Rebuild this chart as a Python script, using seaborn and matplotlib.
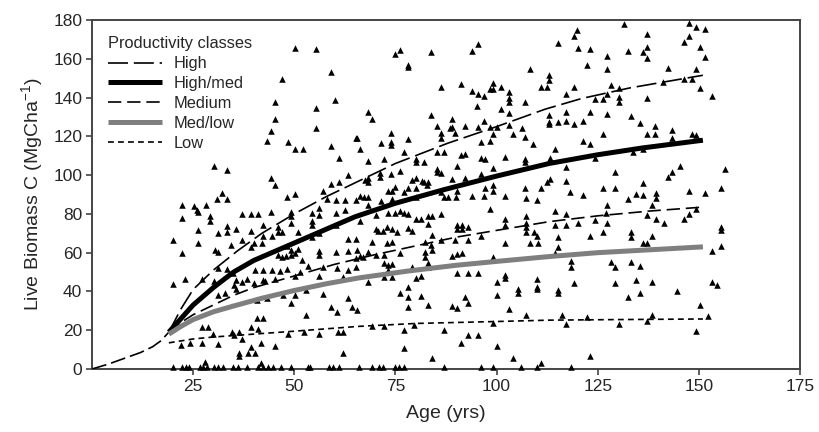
import matplotlib
matplotlib.use("Agg")
import matplotlib.pyplot as plt
import seaborn as sns
import pandas as pd

# ---------------- data ----------------
age_pts = [
    # upper left
    50.2,55.3,59.2,47.0,45.2,55.3,60.1,45.2,55.3,44.2,43.2,48.4,50.2,52.2,59.2,65.2,61.0,30.2,33.3,44.2,45.2,63.2,59.2,61.0,32.2,50.2,57.2,
    # upper middle
    76.1,75.0,83.9,95.3,94.0,78.2,78.2,108.2,112.9,86.3,91.2,94.0,95.3,97.0,99.2,98.4,99.2,101.2,103.1,103.1,103.1,95.1,107.0,101.2,103.1,
    111.1,112.4,112.9,112.9,68.3,69.1,83.9,85.2,89.1,89.1,88.5,92.2,95.3,97.0,98.4,100.0,103.1,104.1,106.2,107.0,109.1,86.3,86.3,89.7,
    73.9,73.9,73.9,78.2,71.4,66.2,65.4,85.2,87.1,91.2,92.2,96.1,96.1,97.1,98.4,99.2,102.2,107.0,107.0,68.3,72.2,77.2,80.0,80.0,82.1,
    85.2,85.2,86.3,89.1,90.1,92.2,96.1,99.2,68.3,71.2,71.2,73.9,76.1,79.0,80.2,81.5,82.1,82.7,83.1,80.0,78.2,77.2,75.0,74.1,73.1,
    86.3,90.1,97.1,99.2,99.2,107.0,111.1,112.4,67.5,68.3,
    # upper right
    120.0,119.2,115.3,120.2,123.1,122.3,127.2,127.2,131.4,137.1,137.1,136.3,132.4,137.1,146.4,147.5,147.5,149.4,151.5,150.3,151.5,
    142.4,149.4,112.9,119.2,117.1,128.3,130.2,124.3,126.4,127.2,130.2,130.2,137.2,141.2,146.4,148.2,150.3,153.3,117.1,112.9,115.3,
    117.1,119.2,121.4,123.1,127.2,133.2,135.4,139.1,139.1,137.1,143.3,143.3,148.2,149.4,126.4,121.4,123.1,114.4,113.2,124.3,133.8,
    136.3,117.1,129.3,145.3,143.3,142.4,156.4,113.2,117.1,118.2,126.4,129.3,136.3,147.5,151.5,155.4,
    # lower left
    31.0,33.3,22.3,25.3,25.9,26.3,28.1,22.3,29.2,29.2,37.2,39.3,41.1,44.2,48.3,49.2,49.2,54.3,56.1,58.2,60.2,62.5,65.2,62.5,60.2,56.1,
    26.3,31.2,33.3,33.3,35.5,39.3,42.3,46.0,46.0,47.0,49.2,51.0,54.3,54.3,54.3,56.1,60.2,63.2,65.2,20.1,26.3,30.4,31.2,22.3,34.3,37.2,
    39.3,40.1,42.3,42.1,44.6,48.3,49.2,51.0,46.0,47.0,47.9,49.2,50.2,51.8,56.1,56.1,60.2,63.2,65.4,65.2,65.2,31.2,33.3,34.9,35.5,37.0,
    38.2,40.3,42.3,44.4,45.2,42.8,46.5,48.3,50.2,51.4,53.5,56.1,57.2,60.5,62.1,63.2,20.1,23.1,27.1,30.2,31.2,33.0,35.2,35.7,40.1,42.3,
    40.9,43.2,47.3,49.2,50.2,53.0,57.2,63.2,53.0,59.2,60.5,64.2,65.4,27.1,28.6,30.0,34.5,35.2,36.3,39.3,40.9,42.3,41.1,48.5,52.5,56.1,
    60.9,62.1,22.0,24.2,27.1,31.1,37.2,39.3,41.9,45.2,36.3,36.3,38.5,40.3,27.9,41.9,62.1,
    # lower middle
    66.2,67.3,68.3,68.3,71.4,74.1,80.0,87.1,88.1,89.9,94.0,97.0,102.2,107.2,110.1,66.2,70.1,73.2,75.0,76.1,77.2,78.2,80.0,81.3,83.1,
    84.1,86.3,83.1,70.1,70.6,72.0,72.8,74.1,75.3,78.2,79.2,84.1,90.1,91.4,90.1,91.4,93.0,96.1,98.4,102.2,102.2,107.2,107.2,107.2,107.2,
    109.3,110.1,110.3,108.2,102.2,93.0,89.7,82.3,83.9,86.3,74.1,72.8,69.3,68.3,67.1,66.2,70.1,72.2,76.1,82.3,82.3,84.1,89.1,90.1,91.4,
    99.2,72.2,73.2,74.1,73.2,72.2,74.1,79.2,80.2,81.3,83.1,83.1,90.1,93.0,95.3,68.3,76.1,78.2,78.2,78.2,81.3,83.1,89.1,90.1,92.2,93.0,
    100.0,102.2,102.2,100.0,105.2,105.2,109.9,110.1,110.1,103.1,107.2,69.3,72.2,77.2,79.7,87.1,91.2,93.0,95.3,99.2,100.0,77.2,84.1,
    104.1,111.1,
    # lower right
    121.4,132.4,134.4,136.3,139.3,139.3,138.5,127.2,114.4,117.1,114.4,117.1,120.2,124.3,127.2,127.0,137.1,139.3,141.5,146.4,147.5,
    149.2,115.3,123.1,126.4,133.2,133.2,136.3,137.1,138.5,115.3,114.4,155.5,155.5,155.5,153.3,118.4,118.4,128.3,129.3,133.2,135.4,
    115.3,115.3,119.2,129.3,134.4,138.5,135.4,132.4,144.5,153.3,154.6,150.3,152.3,116.2,117.1,122.3,130.3,137.3,138.3,149.4,123.1,
    # sitting on the axis
    20.0,22.2,23.2,24.0,26.7,27.5,28.5,30.1,31.2,32.5,34.9,36.2,38.2,41.1,42.3,43.6,44.8,46.6,49.3,53.5,54.0,58.6,59.5,61.1,66.1,
    69.1,71.0,72.0,74.9,76.0,77.0,87.1,96.1,99.2,106.0,110.1,118.3,
]
biomass_pts = [
    165.7,165.0,153.0,149.6,137.9,134.4,138.7,128.9,124.1,122.9,117.6,116.9,113.3,113.3,115.1,118.9,109.0,104.8,102.4,98.7,94.9,100.0,95.2,96.6,90.9,90.3,92.0,
    164.5,162.5,163.3,167.6,164.0,156.8,155.6,154.6,151.7,145.6,146.8,143.4,141.7,140.7,147.4,144.4,144.4,145.6,142.7,140.0,137.6,135.8,137.9,134.1,131.9,
    145.6,145.6,131.0,127.6,132.4,129.0,131.0,125.5,129.0,125.0,124.2,125.5,125.0,127.9,125.0,125.0,125.9,121.1,124.2,119.9,115.9,121.6,119.3,121.6,
    121.6,117.3,115.6,118.6,116.4,113.5,119.0,112.1,112.1,110.4,110.7,117.3,108.7,108.3,117.6,121.4,109.5,108.3,106.6,107.3,108.2,111.8,108.2,106.6,107.0,
    103.2,101.5,100.9,98.0,104.9,98.7,100.4,103.9,98.4,100.9,98.9,100.4,102.1,97.5,98.4,97.0,96.3,94.9,96.6,93.6,93.2,91.5,94.1,91.8,91.8,
    91.1,91.8,93.2,94.9,91.8,93.2,93.2,96.6,97.5,96.6,
    174.9,171.9,168.3,165.8,165.1,156.8,161.5,154.6,177.8,172.8,166.3,163.3,164.0,160.3,168.8,171.9,178.3,176.6,175.2,166.3,161.1,
    155.1,154.6,149.1,145.6,141.7,146.5,145.1,139.3,139.3,141.7,140.5,137.6,140.0,148.2,149.6,149.4,145.1,140.8,132.7,126.5,127.6,
    127.9,126.2,127.9,132.7,131.4,130.7,126.7,125.5,121.1,121.1,123.3,119.0,121.1,120.7,121.1,117.8,116.1,113.5,109.0,109.0,112.1,
    113.5,104.4,101.5,104.7,101.8,99.2,103.2,98.0,97.0,91.5,93.2,93.2,95.8,92.0,90.6,93.2,
    87.5,87.5,84.6,84.0,82.0,81.1,84.6,77.7,78.9,76.5,79.9,79.9,79.9,81.1,88.9,81.1,78.9,80.6,82.8,87.5,87.1,87.1,87.1,82.0,80.6,79.4,
    71.7,70.0,73.7,70.8,72.0,71.3,74.3,73.4,70.8,70.8,75.1,70.8,76.5,74.2,68.2,70.0,74.2,66.9,66.9,66.5,65.1,61.4,60.5,59.6,63.9,66.5,
    62.7,64.8,68.6,64.8,68.6,63.4,61.4,61.7,58.8,57.9,58.3,58.8,60.0,56.2,61.0,58.8,60.5,61.0,61.4,57.1,52.8,51.9,51.4,49.3,45.9,45.0,
    46.2,51.0,51.0,51.0,46.2,45.5,50.7,51.4,47.9,50.2,53.1,47.9,52.8,51.9,47.3,51.0,43.8,46.2,46.2,45.5,38.1,39.0,43.3,41.1,44.5,45.9,
    35.6,36.4,38.1,33.8,38.1,40.7,38.7,36.4,27.8,32.1,29.5,32.1,30.4,21.8,21.8,18.0,19.2,17.5,19.2,21.8,26.1,26.1,20.4,18.0,19.2,18.0,
    19.2,19.2,12.4,13.2,13.6,12.9,15.3,11.2,13.2,11.8,8.1,6.7,8.4,8.1,3.8,2.9,8.1,
    89.2,88.5,88.5,84.6,86.8,87.5,88.9,88.5,88.5,88.9,89.2,89.2,89.2,88.0,87.1,76.5,79.4,80.3,80.6,81.6,80.3,79.9,77.2,77.2,78.9,
    78.9,79.9,74.8,72.0,71.3,71.3,73.4,72.0,70.8,72.5,71.3,69.1,74.2,74.2,72.0,72.0,73.0,68.6,82.3,77.2,74.2,78.9,75.5,73.4,70.8,
    70.8,68.6,65.1,64.8,65.1,66.5,66.5,65.7,63.9,66.5,65.7,65.1,65.7,60.5,57.9,58.3,58.8,58.8,59.6,60.5,57.9,61.4,58.3,59.3,60.0,
    57.9,54.5,53.6,54.1,51.0,47.3,47.3,52.8,46.7,48.0,54.8,52.8,49.7,49.7,49.3,45.0,39.3,42.4,36.9,31.8,37.6,33.0,32.5,31.3,37.3,34.2,
    45.0,48.5,46.7,38.1,41.1,39.3,46.2,42.4,41.1,30.8,27.8,22.2,22.2,20.1,22.7,20.1,13.6,17.5,17.5,23.9,11.8,10.6,5.5,
    5.5,3.3,
    89.7,87.5,90.2,89.7,90.9,88.0,84.6,84.6,81.6,79.9,74.2,74.2,75.5,76.8,75.1,80.6,79.4,77.2,75.1,77.2,79.9,
    82.3,67.9,68.6,70.8,70.8,67.9,65.1,65.1,68.6,62.7,60.0,73.0,71.7,63.4,60.8,55.9,52.4,55.3,52.4,55.3,53.1,
    40.7,39.3,44.5,44.5,45.9,45.0,39.3,37.0,40.4,45.0,43.3,33.0,27.3,27.8,23.0,27.0,23.0,24.9,27.8,19.8,6.7,
    0.8,0.8,0.8,0.8,0.8,0.8,0.8,0.8,0.8,0.8,0.8,0.8,0.8,0.8,0.8,0.8,0.8,0.8,0.8,0.8,0.8,0.8,0.8,0.8,0.8,
    0.8,0.8,0.8,0.8,0.8,0.8,0.8,0.8,0.8,0.8,0.8,0.8,
]

# establishment segment (0-19 yrs)
init_age = [0, 4, 8, 12, 15, 17, 19]
init_bio = [0, 2.5, 5.5, 8.5, 11.5, 14.5, 19]

high_age = [19, 22, 25, 30, 36, 42, 50, 58, 65, 75, 88, 100, 112, 121, 133, 151]
high_bio = [19, 31, 41, 51, 61, 70, 80, 89, 96, 106, 116.5, 125, 134, 139.5, 145, 151.5]

highmed_age = [19, 22, 25, 30, 35, 40, 50, 60, 65, 75, 87, 100, 113, 125, 136, 151]
highmed_bio = [19, 26, 33, 42, 50, 56, 65, 74, 78.5, 85.5, 92.5, 99.5, 106, 110.5, 114, 118]

medium_age = [19, 22, 25, 30, 35, 40, 50, 60, 70, 80, 90, 100, 113, 125, 138, 151]
medium_bio = [19, 24, 28, 33, 38, 42, 48, 54, 59, 63.5, 68, 71.5, 76, 79, 81.5, 83.5]

medlow_age = [19, 22, 25, 30, 35, 42, 50, 58, 66, 78, 90, 100, 113, 125, 138, 151]
medlow_bio = [18, 22, 25.5, 29.5, 32.5, 36.5, 40.5, 44, 47, 50.5, 53.5, 55.5, 58, 60, 61.5, 63]

low_age = [19, 25, 30, 40, 50, 66, 80, 100, 113, 130, 151]
low_bio = [13.5, 15.5, 16.5, 18, 19.5, 22, 23.5, 24.5, 25.2, 25.5, 25.8]

class_labels = ["High", "High/med", "Medium", "Med/low", "Low"]
x_ticks = [25, 50, 75, 100, 125, 150, 175]
y_ticks = [0, 20, 40, 60, 80, 100, 120, 140, 160, 180]

# ---------------- plot ----------------
sns.set_style("ticks")
plt.rcParams["font.family"] = ["Liberation Sans", "DejaVu Sans"]
plt.rcParams["mathtext.fontset"] = "custom"
plt.rcParams["mathtext.rm"] = "Liberation Sans"
plt.rcParams["mathtext.it"] = "Liberation Sans:italic"

fig = plt.figure(figsize=(8.19, 4.32), dpi=100)
ax = fig.add_axes([0.1123, 0.1458, 0.8645, 0.8079])

pts = pd.DataFrame({"age": age_pts, "biomass": biomass_pts})
sns.scatterplot(data=pts, x="age", y="biomass", marker="^", color="black",
                s=22, linewidth=0, ax=ax, legend=False, clip_on=False, zorder=3)

def draw(xv, yv, color, lw, dashes, label=None):
    sns.lineplot(x=xv, y=yv, color=color, linewidth=lw, ax=ax, sort=False,
                 estimator=None, label=label, legend=False, zorder=4)
    ln = ax.lines[-1]
    if dashes is not None:
        ln.set_dashes(dashes)
    ln.set_solid_capstyle("butt")
    ln.set_dash_capstyle("butt")
    return ln

draw(init_age, init_bio, "black", 1.2, (9, 3))
h1 = draw(high_age, high_bio, "black", 1.2, (12, 3.5), class_labels[0])
h2 = draw(highmed_age, highmed_bio, "black", 3.6, None, class_labels[1])
h3 = draw(medium_age, medium_bio, "black", 1.2, (8, 3.5), class_labels[2])
h4 = draw(medlow_age, medlow_bio, "#7f7f7f", 3.6, None, class_labels[3])
h5 = draw(low_age, low_bio, "black", 1.2, (3.5, 2.5), class_labels[4])

ax.set_xlim(0, 175)
ax.set_ylim(0, 180)
ax.set_xticks(x_ticks)
ax.set_yticks(y_ticks)
ax.tick_params(axis="both", labelsize=12.5, length=4, width=1.2, color="#444444",
               direction="out", pad=3)
for sp in ax.spines.values():
    sp.set_visible(True)
    sp.set_color("#444444")
    sp.set_linewidth(1.4)

ax.set_xlabel("Age (yrs)", fontsize=14, labelpad=8)
ax.set_ylabel("Live Biomass C (MgCha$^{-1}$)", fontsize=14, labelpad=6)

leg = ax.legend(handles=[h1, h2, h3, h4, h5], labels=class_labels,
                title="Productivity classes", loc="upper left",
                bbox_to_anchor=(0.0, 1.0), frameon=False, fontsize=11.8,
                title_fontsize=11.8, handlelength=3.3, labelspacing=0.3,
                handletextpad=0.7, borderaxespad=0.6, alignment="left")

fig.savefig("out.png", dpi=100)
